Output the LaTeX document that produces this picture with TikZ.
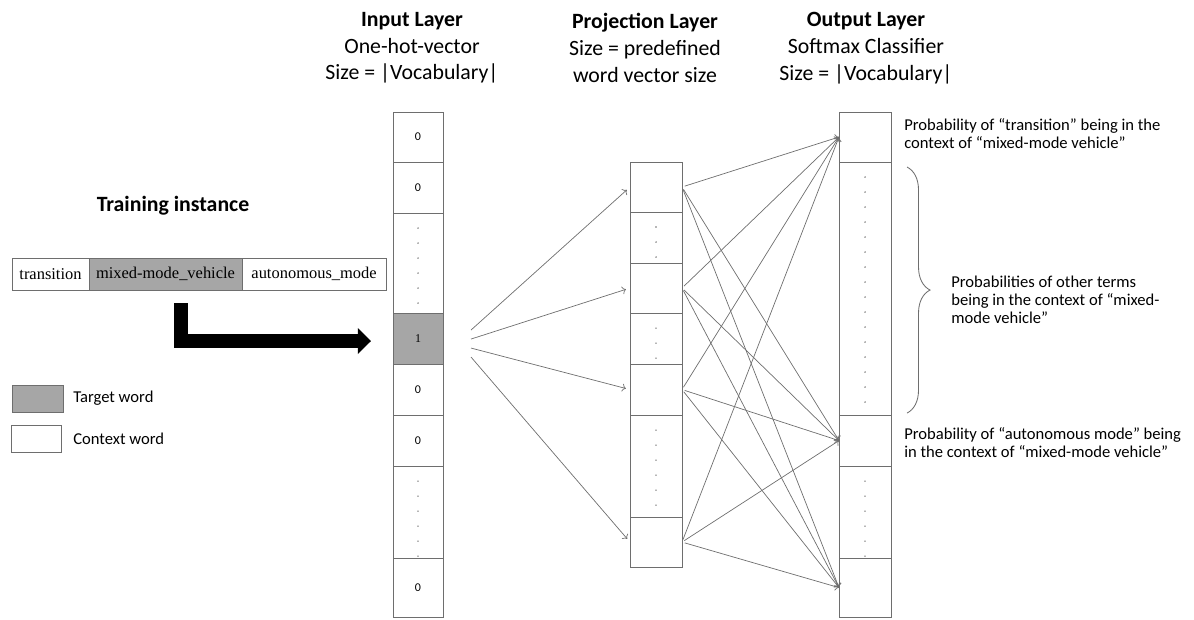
\documentclass[tikz,border=0pt]{standalone}
\usepackage{fontspec}
\setmainfont{Carlito}
\newfontfamily\wordfont{Liberation Serif}
\usetikzlibrary{positioning,calc,arrows.meta,decorations.pathreplacing}
\definecolor{tgtgray}{RGB}{166,166,166}
\definecolor{linegray}{RGB}{110,110,110}

\begin{document}
\begin{tikzpicture}[x={(0.025cm,0cm)},y={(0cm,-0.025cm)},
  cell/.style={draw=linegray,line width=0.6pt,minimum width=1.25cm,inner sep=0pt,outer sep=0pt,font=\fontsize{8.5}{10}\selectfont},
  wcell/.style={cell,minimum width=1.3cm},
  word/.style={draw=linegray,line width=0.6pt,minimum height=0.8cm,inner sep=0pt,outer sep=0pt,font=\wordfont\fontsize{11.7}{13}\selectfont},
  head/.style={align=center,font=\fontsize{15.5}{19}\selectfont},
  note/.style={align=left,anchor=west,inner sep=0pt,font=\fontsize{11.8}{12.8}\selectfont},
  link/.style={draw=linegray,line width=0.5pt,->},
  bigarrow/.style={line width=0.35cm,-{Triangle[length=0.33cm,width=0.63cm]}}]

\useasboundingbox (0,0) rectangle (1194,619);

\node[head] (hin) at (412,48) {\textbf{Input Layer}\\One-hot-vector\\Size = |Vocabulary|};
\node[head] (hproj) at (645,48) {\textbf{Projection Layer}\\Size = predefined\\word vector size};
\node[head] (hout) at (866,48) {\textbf{Output Layer}\\Softmax Classifier\\Size = |Vocabulary|};

\node[cell,minimum height=1.25cm] (in1) at (418,137) {0};
\node[cell,minimum height=1.275cm,below=0pt of in1] (in2) {0};
\node[cell,minimum height=2.5cm,below=0pt of in2] (in3) {};
\node[cell,minimum height=1.275cm,below=0pt of in3,fill=tgtgray,font=\wordfont\fontsize{8.5}{10}\selectfont] (in4) {1};
\node[cell,minimum height=1.275cm,below=0pt of in4] (in5) {0};
\node[cell,minimum height=1.275cm,below=0pt of in5] (in6) {0};
\node[cell,minimum height=2.3cm,below=0pt of in6] (in7) {};
\node[cell,minimum height=1.475cm,below=0pt of in7] (in8) {0};

\node[wcell,minimum height=1.25cm] (p1) at (656,187) {};
\node[wcell,minimum height=1.275cm,below=0pt of p1] (p2) {};
\node[wcell,minimum height=1.25cm,below=0pt of p2] (p3) {};
\node[wcell,minimum height=1.275cm,below=0pt of p3] (p4) {};
\node[wcell,minimum height=1.275cm,below=0pt of p4] (p5) {};
\node[wcell,minimum height=2.55cm,below=0pt of p5] (p6) {};
\node[wcell,minimum height=1.25cm,below=0pt of p6] (p7) {};

\node[wcell,minimum height=1.25cm] (o1) at (865,137) {};
\node[wcell,minimum height=6.325cm,below=0pt of o1] (o2) {};
\node[wcell,minimum height=1.275cm,below=0pt of o2] (o3) {};
\node[wcell,minimum height=2.3cm,below=0pt of o3] (o4) {};
\node[wcell,minimum height=1.475cm,below=0pt of o4] (o5) {};

\foreach \c/\n in {in3/6,in7/6,p2/3,p4/3,p6/6,o2/16,o4/6}
  \foreach \k in {1,...,\n} \fill[linegray] ($(\c.north)+(0,15*\k)$) circle (0.55pt);

\coordinate (fan) at ($(in4.east)+(28,0)$);
\foreach \p/\d in {p1/-8.5,p3/0.5,p5/9.5,p7/18.5}
  \draw[link,shorten >=3pt] ($(fan)+(0,\d)$) -- (\p.west);
\foreach \p in {p1,p3,p5,p7}
  \foreach \o in {o1,o3,o5}
    \draw[link,shorten <=2pt] (\p.east) -- (\o.west);

\node[font=\bfseries\fontsize{15.5}{19}\selectfont] (train) at (173,206) {Training instance};
\node[word,minimum width=1.925cm] (w1) at (50.5,274) {transition};
\node[word,minimum width=3.825cm,fill=tgtgray,right=0pt of w1] (w2) {mixed-mode\_vehicle};
\node[word,minimum width=3.6cm,right=0pt of w2] (w3) {autonomous\_mode};
\draw[bigarrow] ($(w2.south)+(15.5,13)$) |- ($(in4.west)+(-22,2.5)$);

\node[word,fill=tgtgray,minimum width=1.275cm,minimum height=0.675cm] (lgt) at (37.5,398.5) {};
\node[note,right=0.25cm of lgt] (lgttext) {Target word};
\node[word,minimum width=1.25cm,minimum height=0.675cm] (lgc) at (36,438.5) {};
\node[note,right=0.3cm of lgc] (lgctext) {Context word};

\node[note] (n1) at (904,134) {Probability of “transition” being in the\\context of “mixed-mode vehicle”};
\draw[linegray,line width=0.6pt,decorate,decoration={brace,amplitude=0.575cm}] ($(o2.north east)+(16,5)$) -- ($(o2.south east)+(16,-2)$);
\node[note] (n2) at (951,300) {Probabilities of other terms\\being in the context of “mixed-\\mode vehicle”};
\node[note] (n3) at (904,442.5) {Probability of “autonomous mode” being\\in the context of “mixed-mode vehicle”};

\end{tikzpicture}
\end{document}
